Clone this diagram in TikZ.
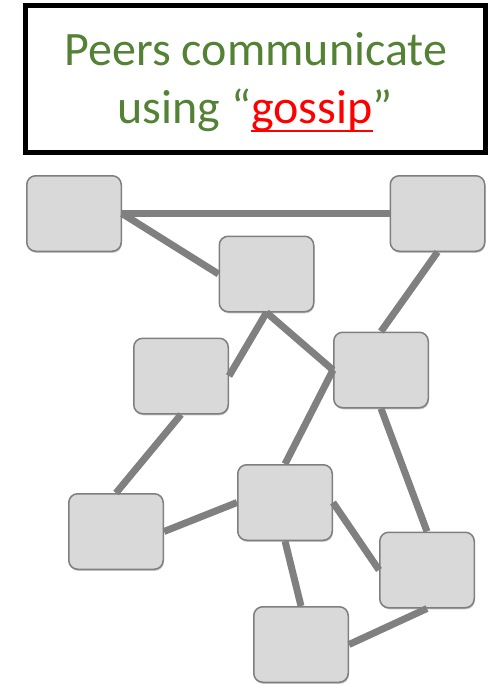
\documentclass[tikz,border=0pt]{standalone}
\usepackage{fontspec}
\setmainfont{Carlito}
\usetikzlibrary{shadows}
\definecolor{titlegreen}{HTML}{548235}
\definecolor{peerfill}{HTML}{D9D9D9}
\definecolor{peerline}{HTML}{7F7F7F}
\definecolor{linkgray}{HTML}{808080}
% underline that cuts through the descenders
\newcommand\lowrule[1]{\setbox0\hbox{#1}\rlap{\rule[-0.19em]{\wd0}{0.045em}}\box0}
\begin{document}
\begin{tikzpicture}[x=1pt,y=-1pt,
  peer/.style={draw=peerline, line width=1.5pt, fill=peerfill, rounded corners=9pt,
    minimum width=94.5pt, minimum height=75.5pt, inner sep=0pt,
    drop shadow={shadow xshift=0.6pt, shadow yshift=-1.6pt, opacity=0.22, fill=black}},
  link/.style={draw=linkgray, line width=7pt},
  caption/.style={anchor=base, text=titlegreen, inner sep=0pt, font=\fontsize{48}{58}\selectfont}]
\useasboundingbox (0,0) rectangle (492,686);

% title frame and caption
\node[draw, line width=5pt, minimum width=460pt, minimum height=147pt, inner sep=0pt] (frame) at (255.5,79) {};
\node[caption] (cap1) at (256,65) {Peers communicate};
\node[caption] (cap2) at (255,123) {using “\textcolor{red}{\lowrule{gossip}}”};

% peers
\node[peer] (p1) at (74,213.5) {};
\node[peer] (p2) at (437.5,213.5) {};
\node[peer] (p3) at (266.5,274) {};
\node[peer] (p4) at (181,376) {};
\node[peer] (p5) at (381,370) {};
\node[peer] (p6) at (116,531.5) {};
\node[peer] (p7) at (285,502.5) {};
\node[peer] (p8) at (427,570) {};
\node[peer] (p9) at (301,644.5) {};

% gossip links
\draw[link] (p1.east) -- (p2.west);
\draw[link] (p1.east) -- (p3.west);
\draw[link] (p2.south) -- (p5.north);
\draw[link] (p3.south) -- (p4.east);
\draw[link] (p3.south) -- (p5.west);
\draw[link] (p4.south) -- (p6.north);
\draw[link] (p5.west) -- (p7.north);
\draw[link] (p5.south) -- (p8.north);
\draw[link] (p6.east) -- (p7.west);
\draw[link] (p7.east) -- (p8.west);
\draw[link] (p7.south) -- (p9.north);
\draw[link] (p8.south) -- (p9.east);
\end{tikzpicture}
\end{document}
